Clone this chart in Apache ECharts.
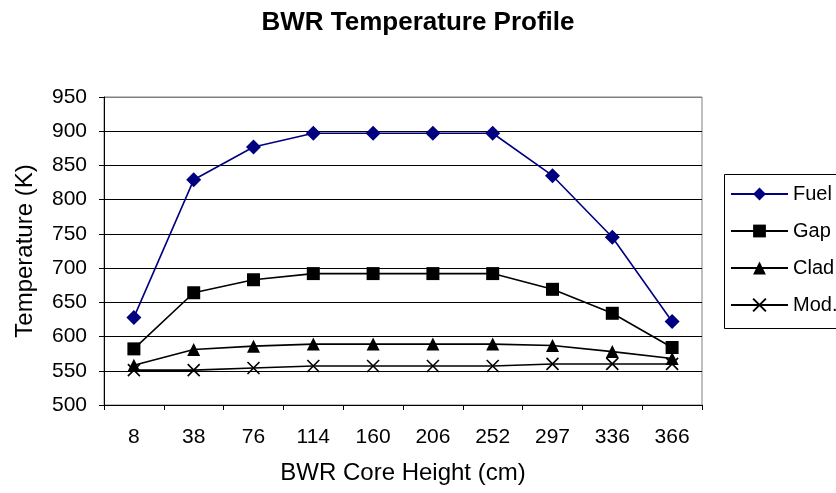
<!DOCTYPE html>
<html>
<head>
<meta charset="utf-8">
<script src="https://cdn.jsdelivr.net/npm/echarts@6/dist/echarts.min.js"></script>
<style>
html,body{margin:0;padding:0;background:#fff;}
#chart{width:836px;height:493px;}
</style>
</head>
<body>
<div id="chart"></div>
<script>
const heights = ['8','38','76','114','160','206','252','297','336','366'];
const fuel = [628, 829, 877, 897, 897, 897, 897, 835, 745, 622];
const gap  = [582, 664, 683, 692, 692, 692, 692, 669, 634, 584];
const clad = [558, 581, 586, 589, 589, 589, 589, 587, 578, 568];
const mod  = [551, 551, 554, 557, 557, 557, 557, 560, 560, 560];
const yTicks = [500, 950, 50];

const FONT = '"Liberation Sans", Arial, sans-serif';
const crossPath = 'path://M0,0L10,10M10,0L0,10';

function ser(name, data, color, symbol, size, extra) {
  return Object.assign({
    name: name, type: 'line', data: data,
    symbol: symbol, symbolSize: size,
    lineStyle: {color: color, width: 1.6},
    itemStyle: {color: color},
    emphasis: {disabled: true},
    animation: false
  }, extra || {});
}

const chart = echarts.init(document.getElementById('chart'), null, {renderer: 'canvas'});
chart.setOption({
  backgroundColor: '#fff',
  animation: false,
  title: {
    text: 'BWR Temperature Profile', left: 'center', top: 5,
    textStyle: {fontFamily: FONT, fontSize: 26, fontWeight: 'bold', color: '#000'}
  },
  grid: {left: 104, right: 134, top: 97, bottom: 88, show: true, borderColor: '#808080', borderWidth: 1},
  legend: {
    left: 725, top: 179, orient: 'vertical', itemGap: 17,
    itemWidth: 57, itemHeight: 16,
    textStyle: {fontFamily: FONT, fontSize: 20, color: '#000'},
    data: ['Fuel','Gap','Clad','Mod.']
  },
  graphic: [{
    type: 'rect', shape: {x: 724.5, y: 174.5, width: 150, height: 154},
    style: {fill: 'none', stroke: '#000', lineWidth: 1}, z: -1
  }],
  xAxis: {
    type: 'category', data: heights, boundaryGap: true,
    name: 'BWR Core Height (cm)', nameLocation: 'middle', nameGap: 56,
    nameTextStyle: {fontFamily: FONT, fontSize: 24, color: '#000'},
    axisLine: {lineStyle: {color: '#000', width: 1}},
    axisTick: {show: true, alignWithLabel: false, length: 5, lineStyle: {color: '#000'}},
    axisLabel: {fontFamily: FONT, fontSize: 21, color: '#000', margin: 22},
    splitLine: {show: false}
  },
  yAxis: {
    type: 'value', min: yTicks[0], max: yTicks[1], interval: yTicks[2],
    name: 'Temperature (K)', nameLocation: 'middle', nameGap: 67, nameRotate: 90,
    nameTextStyle: {fontFamily: FONT, fontSize: 24, color: '#000'},
    axisLine: {show: true, lineStyle: {color: '#000', width: 1}},
    axisTick: {show: true, length: 5, lineStyle: {color: '#000'}},
    axisLabel: {fontFamily: FONT, fontSize: 21, color: '#000', margin: 17},
    splitLine: {show: true, lineStyle: {color: ['#000','#000','#000','#000','#000','#000','#000','#000','#000','#808080'], width: 1}}
  },
  series: [
    ser('Fuel', fuel, '#000080', 'diamond', 15),
    ser('Gap', gap, '#000', 'rect', 13),
    ser('Clad', clad, '#000', 'triangle', 13),
    ser('Mod.', mod, '#000', crossPath, 12, {itemStyle: {color: 'none', borderColor: '#000', borderWidth: 1.6}})
  ]
});
</script>
</body>
</html>
